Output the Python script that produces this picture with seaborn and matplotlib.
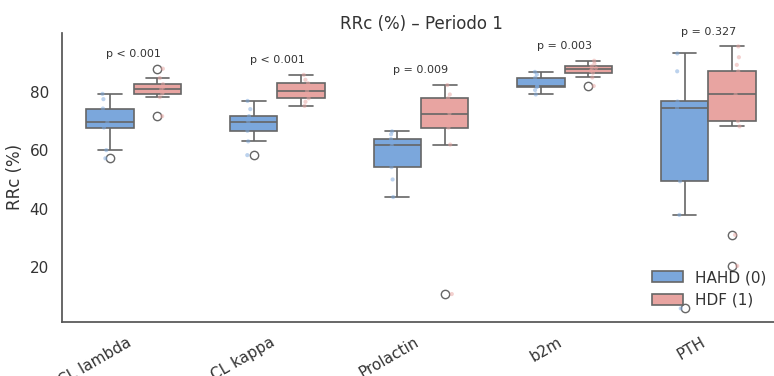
import numpy as np
import pandas as pd
import matplotlib
matplotlib.use("Agg")
import matplotlib.pyplot as plt
import seaborn as sns

# Markers and treatment groups
categories = ["CL lambda", "CL kappa", "Prolactin", "b2m", "PTH"]
groups = ["HAHD (0)", "HDF (1)"]

# Reduction ratio (%) per patient, Period 1
cl_lambda_hahd = [57.2, 60.0, 67.7, 68.5, 69.5, 72.0, 74.2, 77.4, 79.2]
cl_lambda_hdf = [71.6, 78.1, 79.3, 80.0, 80.8, 81.6, 82.5, 84.6, 87.8]
cl_kappa_hahd = [58.3, 63.0, 66.6, 68.5, 69.6, 70.5, 71.6, 74.0, 76.8]
cl_kappa_hdf = [75.1, 76.5, 77.7, 79.0, 80.2, 81.5, 82.8, 84.0, 85.7]
prolactin_hahd = [44.0, 50.0, 54.2, 58.0, 61.6, 62.5, 63.8, 65.4, 66.4]
prolactin_hdf = [10.9, 61.9, 67.7, 70.0, 72.5, 75.0, 77.7, 79.0, 82.2]
b2m_hahd = [79.0, 80.5, 81.6, 81.8, 81.9, 83.5, 84.7, 85.8, 86.7]
b2m_hdf = [81.9, 84.8, 86.4, 87.0, 87.6, 88.0, 88.6, 89.5, 90.5]
pth_hahd = [6.0, 37.9, 49.4, 65.4, 74.4, 75.5, 76.6, 86.9, 93.0]
pth_hdf = [20.5, 31.1, 68.1, 69.9, 72.0, 75.6, 79.0, 81.5, 84.0, 86.9, 89.1, 91.7, 95.4]

# p-values of the group comparison per marker
p_labels = ["p < 0.001", "p < 0.001", "p = 0.009", "p = 0.003", "p = 0.327"]

series = {
    ("CL lambda", "HAHD (0)"): cl_lambda_hahd,
    ("CL lambda", "HDF (1)"): cl_lambda_hdf,
    ("CL kappa", "HAHD (0)"): cl_kappa_hahd,
    ("CL kappa", "HDF (1)"): cl_kappa_hdf,
    ("Prolactin", "HAHD (0)"): prolactin_hahd,
    ("Prolactin", "HDF (1)"): prolactin_hdf,
    ("b2m", "HAHD (0)"): b2m_hahd,
    ("b2m", "HDF (1)"): b2m_hdf,
    ("PTH", "HAHD (0)"): pth_hahd,
    ("PTH", "HDF (1)"): pth_hdf,
}
rows = [(m, g, v) for (m, g), vals in series.items() for v in vals]
df = pd.DataFrame(rows, columns=["marker", "group", "rrc"])

sns.set_theme(style="white", context="notebook")
plt.rcParams["font.family"] = ["DejaVu Sans"]
text_color = "#333333"
plt.rcParams["text.color"] = text_color
plt.rcParams["axes.labelcolor"] = text_color
plt.rcParams["xtick.color"] = text_color
plt.rcParams["ytick.color"] = text_color

palette = {"HAHD (0)": "#7ba7dc", "HDF (1)": "#e8a4a1"}
edge = "#666666"

fig = plt.figure(figsize=(7.74, 3.76), dpi=100)
ax = fig.add_axes([62 / 774, 1 - 321.5 / 376, 718 / 774, 288.2 / 376])

sns.boxplot(
    data=df, x="marker", y="rrc", hue="group",
    order=categories, hue_order=groups, palette=palette,
    width=0.66, saturation=1, linecolor=edge, linewidth=1.2,
    flierprops=dict(marker="o", markerfacecolor="white",
                    markeredgecolor=edge, markersize=6, markeredgewidth=1.0),
    ax=ax,
)
np.random.seed(3)
sns.stripplot(
    data=df, x="marker", y="rrc", hue="group",
    order=categories, hue_order=groups, palette=palette,
    dodge=True, jitter=0.04, size=3, alpha=0.5, legend=False, ax=ax,
)

# p-value annotations above each marker
for i, (cat, lab) in enumerate(zip(categories, p_labels)):
    top = df.loc[df["marker"] == cat, "rrc"].max()
    ax.text(i, top + 5, lab, ha="center", va="center", fontsize=8, color=text_color)

ax.set_title("RRc (%) \u2013 Periodo 1", fontsize=12, pad=3)
ax.set_xlabel("")
ax.set_ylabel("RRc (%)", fontsize=12)
ax.set_yticks([20, 40, 60, 80])
ax.set_xlim(-0.5, 4.5)
plt.setp(ax.get_xticklabels(), rotation=30, ha="right")

sns.despine(ax=ax)
for s in ("left", "bottom"):
    ax.spines[s].set_color("#555555")
    ax.spines[s].set_linewidth(1.25)

sns.move_legend(ax, "lower right", frameon=False, title=None, fontsize=11)

fig.savefig("out.png", dpi=100)
